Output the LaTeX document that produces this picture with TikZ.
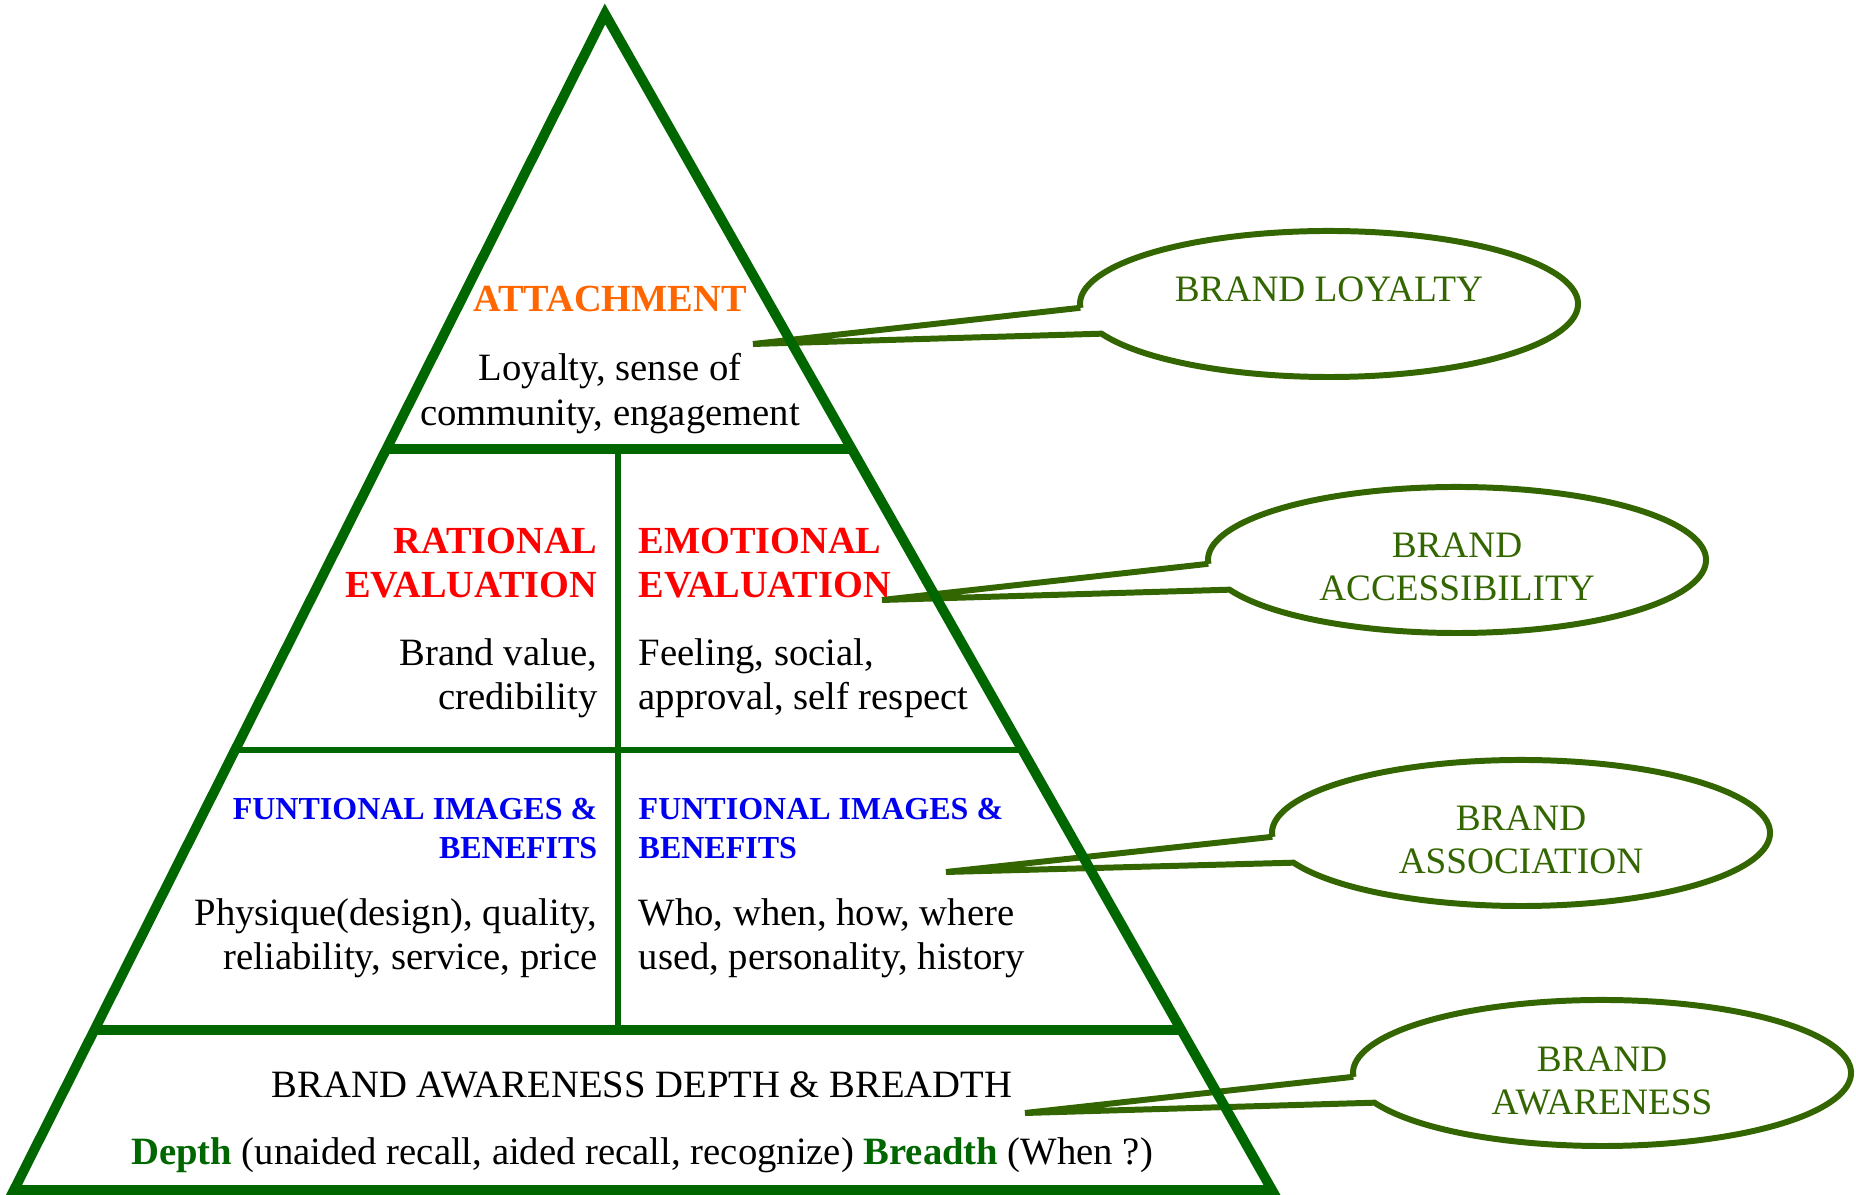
\documentclass[tikz,border=0pt]{standalone}
\usepackage{fontspec}
\setmainfont{Liberation Serif}
\usetikzlibrary{calc,positioning}
\definecolor{pyrgreen}{RGB}{0,102,0}
\definecolor{bubgreen}{RGB}{51,102,0}
\definecolor{attorange}{RGB}{255,102,0}
\definecolor{evalred}{RGB}{255,0,0}
\definecolor{funcblue}{RGB}{0,0,240}
\newcommand{\bubble}[2]{\draw[bubble] ($(#1)+(177:249 and 73)$) -- (#2) -- ($(#1)+(156:249 and 73)$) arc[start angle=156, end angle=-183, x radius=249, y radius=73];}

\begin{document}
\begin{tikzpicture}[x=0.01cm,y=-0.01cm]
			\tikzset{every node/.style={inner sep=0pt,font=\fontsize{11}{12.6}\selectfont}}
			\tikzset{outer/.style={draw=pyrgreen,line width=2.8pt,line join=miter}}
			\tikzset{thin/.style={draw=pyrgreen,line width=1.6pt}}
			\tikzset{bubble/.style={draw=bubgreen,line width=1.7pt}}
			\tikzset{title/.style={font=\fontsize{10.9}{12.4}\selectfont\bfseries}}
			\tikzset{functitle/.style={font=\fontsize{9.1}{11.1}\selectfont\bfseries,text=funcblue}}
			\tikzset{bubtext/.style={align=center,text=bubgreen,font=\fontsize{10.6}{12.4}\selectfont}}
			\useasboundingbox (0,0) rectangle (1856,1195);
			\coordinate (apex) at (605,14);
			\coordinate (bl) at (14,1190);
			\coordinate (br) at (1272,1190);
			% callouts
			\coordinate (loyaltyc) at (1329,304);
			\coordinate (accessc) at (1457,560);
			\coordinate (assocc) at (1521,833);
			\coordinate (awarec) at (1602,1073);
			\coordinate (loyaltytip) at (753,344);
			\coordinate (accesstip) at (882,600);
			\coordinate (assoctip) at (946,872);
			\coordinate (awaretip) at (1025,1113);
			\bubble{loyaltyc}{loyaltytip}
			\bubble{accessc}{accesstip}
			\bubble{assocc}{assoctip}
			\bubble{awarec}{awaretip}
			\node[bubtext] (loyalty) at (1329,289) {BRAND LOYALTY};
			\node[bubtext] (access) at (1457,567) {BRAND\\ACCESSIBILITY};
			\node[bubtext] (assoc) at (1521,840) {BRAND\\ASSOCIATION};
			\node[bubtext] (aware) at (1602,1081) {BRAND\\AWARENESS};
			% pyramid
			\draw[outer] (apex) -- (br) -- (bl) -- cycle;
			\draw[outer] ($(apex)!0.37!(bl)$) -- ($(apex)!0.37!(br)$);
			\draw[thin] ($(apex)!0.626!(bl)$) -- ($(apex)!0.626!(br)$);
			\draw[outer,line width=3pt] ($(apex)!0.864!(bl)$) -- ($(apex)!0.864!(br)$);
			\draw[thin] (618,449) -- (618,1030);
			% texts
			\node[title,text=attorange] (attach) at (610,299) {ATTACHMENT};
			\node[align=center,font=\fontsize{11}{12.8}\selectfont] (attachtxt) at (610,394) {Loyalty, sense of\\community, engagement};
			\node[title,text=evalred,align=right,anchor=east] (rational) at (598,563) {RATIONAL\\EVALUATION};
			\node[align=right,anchor=east] (rationaltxt) at (598,678) {Brand value,\\credibility};
			\node[title,text=evalred,align=left,anchor=west] (emotional) at (638,563) {EMOTIONAL\\EVALUATION};
			\node[align=left,anchor=west] (emotionaltxt) at (638,678) {Feeling, social,\\approval, self respect};
			\node[functitle,align=right,anchor=east] (funcleft) at (598,829) {FUNTIONAL IMAGES \&\\BENEFITS};
			\node[align=right,anchor=east] (funclefttxt) at (598,938) {Physique(design), quality,\\reliability, service, price};
			\node[functitle,align=left,anchor=west] (funcright) at (638,829) {FUNTIONAL IMAGES \&\\BENEFITS};
			\node[align=left,anchor=west] (funcrighttxt) at (638,938) {Who, when, how, where\\used, personality, history};
			\node (awareness) at (642,1085) {BRAND AWARENESS DEPTH \& BREADTH};
			\node (depth) at (642,1155) {\textcolor{pyrgreen}{\bfseries Depth} (unaided recall, aided recall, recognize) \textcolor{pyrgreen}{\bfseries Breadth} (When ?)};
\end{tikzpicture}
\end{document}
